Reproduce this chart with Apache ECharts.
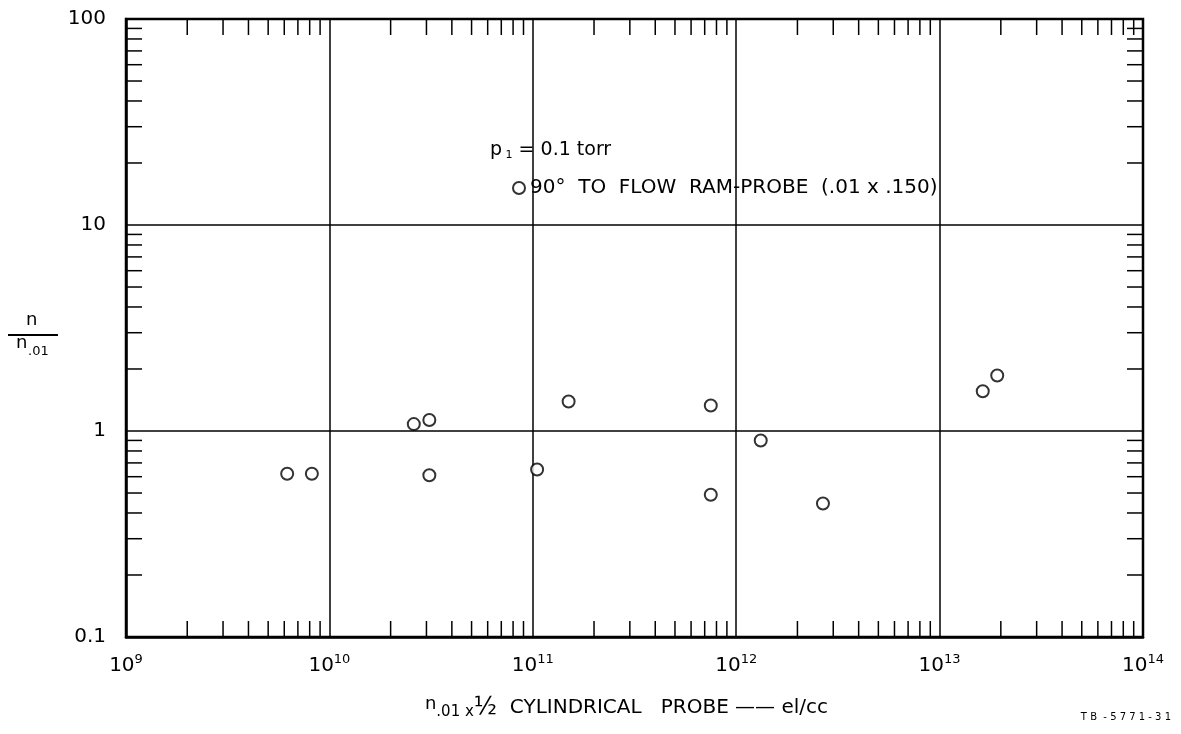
<!DOCTYPE html>
<html>
<head>
<meta charset="utf-8">
<script src="https://cdn.jsdelivr.net/npm/echarts@6/dist/echarts.min.js"></script>
<style>html,body{margin:0;padding:0;background:#fff;}#chart{width:1181px;height:734px;}</style>
</head>
<body>
<div id="chart"></div>
<script>
// ---- data ----
const xValues = [6.2e9, 8.2e9, 2.6e10, 3.1e10, 3.1e10, 1.05e11, 1.5e11, 7.5e11, 7.5e11, 1.32e12, 2.67e12, 1.63e13, 1.92e13];
const yValues = [0.62, 0.62, 1.08, 1.13, 0.61, 0.65, 1.39, 1.33, 0.49, 0.90, 0.445, 1.56, 1.86];
const seriesName = '90°  TO  FLOW  RAM-PROBE  (.01 x .150)';
const xTickExponents = [9, 10, 11, 12, 13, 14];
const yTickLabels = ['0.1', '1', '10', '100'];
const minorMultipliers = [2, 3, 4, 5, 6, 7, 8, 9];

const X_MIN = 1e9, X_MAX = 1e14, Y_MIN = 0.1, Y_MAX = 100;
const FONT = 'DejaVu Sans';

// minor tick values (log-spaced), drawn through the axes' scales
const minorTickData = [];
for (let e = 9; e < 14; e++) minorMultipliers.forEach(m => minorTickData.push([m * Math.pow(10, e), 1, 0]));
for (let e = -1; e < 2; e++) minorMultipliers.forEach(m => minorTickData.push([1e10, m * Math.pow(10, e), 1]));

const TICK = 16;
const chart = echarts.init(document.getElementById('chart'));
chart.setOption({
  backgroundColor: '#fff',
  animation: false,
  grid: { left: 126, top: 19, right: 38, bottom: 97, show: true, borderColor: '#000', borderWidth: 2.5, backgroundColor: 'transparent' },
  xAxis: {
    type: 'log', logBase: 10, min: X_MIN, max: X_MAX,
    axisLine: { show: true, lineStyle: { color: '#000', width: 2.5 } },
    axisTick: { show: false },
    splitLine: { show: true, lineStyle: { color: '#000', width: 1.5 } },
    axisLabel: {
      margin: 16,
      formatter: function (v) {
        const e = Math.round(Math.log10(v));
        if (xTickExponents.indexOf(e) < 0) return '';
        return '{b|10}{s|' + e + '}';
      },
      rich: {
        b: { fontFamily: FONT, fontSize: 20, color: '#000' },
        s: { fontFamily: FONT, fontSize: 13, color: '#000', padding: [0, 0, 12, 0] }
      }
    },
    name: '{n|n}{sub|.01 x}{f|½}{t|  CYLINDRICAL   PROBE —— el/cc}',
    nameLocation: 'middle', nameGap: 58,
    nameTextStyle: {
      padding: [0, 16, 0, 0],
      rich: {
        n: { fontFamily: FONT, fontSize: 18, color: '#000', padding: [0, 0, 6, 0] },
        sub: { fontFamily: FONT, fontSize: 15, color: '#000', padding: [10, 0, 0, 0] },
        f: { fontFamily: FONT, fontSize: 24, color: '#000' },
        t: { fontFamily: FONT, fontSize: 20, color: '#000' }
      }
    }
  },
  yAxis: {
    type: 'log', logBase: 10, min: Y_MIN, max: Y_MAX,
    axisLine: { show: true, lineStyle: { color: '#000', width: 2.5 } },
    axisTick: { show: false },
    splitLine: { show: true, lineStyle: { color: '#000', width: 1.5 } },
    axisLabel: {
      margin: 20, fontFamily: FONT, fontSize: 20, color: '#000',
      formatter: function (v) {
        const e = Math.round(Math.log10(v));
        return yTickLabels[e + 1] || '';
      }
    }
  },
  legend: {
    show: true, left: 507, top: 173, orient: 'vertical',
    itemWidth: 12, itemHeight: 12,
    data: [{ name: seriesName, icon: 'emptyCircle' }],
    textStyle: { fontFamily: FONT, fontSize: 20, color: '#000' }
  },
  graphic: [
    { type: 'text', left: 490, top: 141, style: { rich: {
      a: { fontFamily: FONT, fontSize: 19, fill: '#000' },
      s: { fontFamily: FONT, fontSize: 11, fill: '#000', padding: [10, 0, 0, 0] }
    }, text: '{a|p}{s| 1}{a| = 0.1 torr}' } },
    { type: 'text', left: 26, top: 311, style: { text: 'n', font: '18px ' + FONT, fill: '#000' } },
    { type: 'rect', shape: { x: 8, y: 334, width: 50, height: 2 }, style: { fill: '#000' } },
    { type: 'text', left: 16, top: 334, style: { text: 'n', font: '18px ' + FONT, fill: '#000' } },
    { type: 'text', left: 28, top: 345, style: { text: '.01', font: '13px ' + FONT, fill: '#000' } },
    { type: 'text', right: 10, top: 712, style: { text: 'T B  - 5 7 7 1 - 3 1', font: '10px ' + FONT, fill: '#000' } }
  ],
  series: [
    {
      type: 'custom', silent: true, clip: false, z: 3,
      data: minorTickData,
      renderItem: function (params, api) {
        const v = api.value(0), w = api.value(1), kind = api.value(2);
        const st = { stroke: '#000', lineWidth: 1.5 };
        if (kind === 0) {
          const b = api.coord([v, Y_MIN]), t = api.coord([v, Y_MAX]);
          return { type: 'group', children: [
            { type: 'line', shape: { x1: b[0], y1: b[1], x2: b[0], y2: b[1] - TICK }, style: st },
            { type: 'line', shape: { x1: t[0], y1: t[1], x2: t[0], y2: t[1] + TICK }, style: st }
          ] };
        }
        const l = api.coord([X_MIN, w]), r = api.coord([X_MAX, w]);
        return { type: 'group', children: [
          { type: 'line', shape: { x1: l[0], y1: l[1], x2: l[0] + TICK, y2: l[1] }, style: st },
          { type: 'line', shape: { x1: r[0], y1: r[1], x2: r[0] - TICK, y2: r[1] }, style: st }
        ] };
      }
    },
    {
      name: seriesName, type: 'scatter', z: 5,
      symbol: 'emptyCircle', symbolSize: 12,
      itemStyle: { color: '#000', borderColor: '#000', borderWidth: 2 },
      data: xValues.map((x, i) => [x, yValues[i]])
    }
  ]
});
</script>
</body>
</html>
